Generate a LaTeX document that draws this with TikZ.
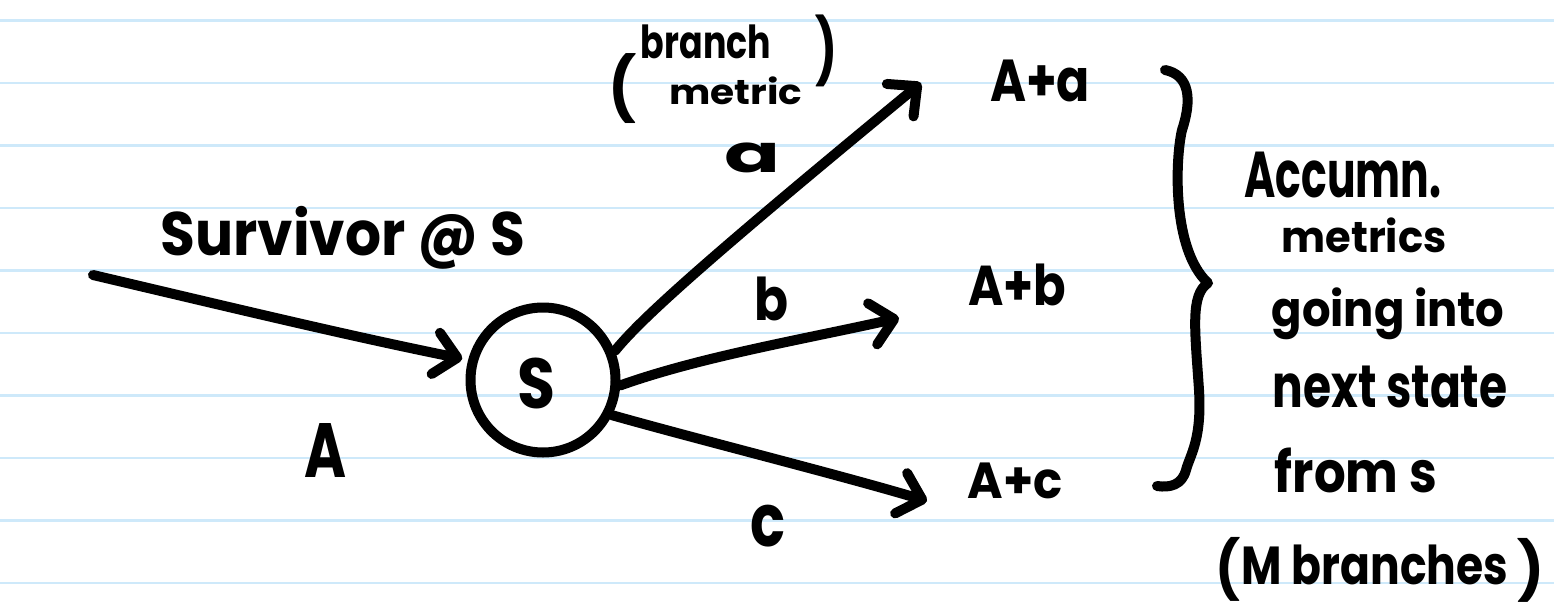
\documentclass[tikz,border=0pt]{standalone}
\usepackage{fontspec}
\setmainfont{Poppins}
\usepackage{graphicx}
\usetikzlibrary{arrows.meta}
\definecolor{ruleblue}{RGB}{206,233,250}
\newcommand\fitbox[3]{\resizebox*{#1}{#2}{#3}}
\tikzset{
  pen/.style={line width=10pt, line cap=round, line join=round, black},
  arr/.style={pen, -{Straight Barb[length=22pt,width=42pt,round]}},
  hw/.style={font=\bfseries, inner sep=0pt, outer sep=0pt, anchor=center},
  ruled/.style={ruleblue, line width=2.5pt},
  state/.style={circle, draw, line width=10pt, minimum size=145pt, inner sep=0pt},
}
\begin{document}
\begin{tikzpicture}[x=1pt,y=-1pt]
\useasboundingbox (0,0) rectangle (1554,610);
\fill[white] (0,0) rectangle (1554,610);
\foreach \k in {0,...,9} {
  \draw[ruled] (0,20.7+62.5*\k) -- (1554,20.7+62.5*\k);
}
% state
\node[state] (S) at (543,380) {};
\node[hw] (Slab) at (536,383) {\fitbox{38pt}{51pt}{S}};
% labels
\node[hw] (surv) at (343,238) {\fitbox{365pt}{63pt}{Survivor @ S}};
\node[hw] (Alab) at (326,450) {\fitbox{42pt}{54pt}{A}};
\node[hw] (alab) at (752,158) {\fitbox{56pt}{30pt}{a}};
\node[hw] (blab) at (771,299) {\fitbox{34pt}{44pt}{b}};
\node[hw] (clab) at (768,526) {\fitbox{35pt}{42pt}{c}};
\node[hw] (Aa) at (1040,81) {\fitbox{100pt}{42pt}{A+a}};
\node[hw] (Ab) at (1017,285) {\fitbox{98pt}{42pt}{A+b}};
\node[hw] (Ac) at (1015,481) {\fitbox{95pt}{36pt}{A+c}};
% (branch metric)
\node[hw] (branch) at (706,42) {\fitbox{130pt}{34pt}{branch}};
\node[hw] (metric) at (736,91) {\fitbox{133pt}{28pt}{metric}};
\node[hw] (lp1) at (622,89) {\fitbox{28pt}{70pt}{(}};
\node[hw] (rp1) at (826,51) {\fitbox{22pt}{72pt}{)}};
% right column
\node[hw] (acc) at (1343,175) {\fitbox{197pt}{46pt}{Accumn.}};
\node[hw] (met) at (1364,235) {\fitbox{165pt}{35pt}{metrics}};
\node[hw] (go) at (1388,314) {\fitbox{233pt}{52pt}{going into}};
\node[hw] (next) at (1390,387) {\fitbox{235pt}{42pt}{next state}};
\node[hw] (from) at (1356,470) {\fitbox{162pt}{45pt}{from s}};
\node[hw] (mbr) at (1375,565) {\fitbox{266pt}{40pt}{M branches}};
\node[hw] (lp2) at (1228,569) {\fitbox{25pt}{64pt}{(}};
\node[hw] (rp2) at (1531,570) {\fitbox{27pt}{64pt}{)}};
% free ends
\coordinate (in0) at (93,275);
\coordinate (ta) at (921,83);
\coordinate (tb) at (899,318);
\coordinate (tc) at (927,501);
% connectors
\draw[arr, shorten >=6pt] (in0) .. controls (250,312) and (350,336) .. (S.165);
\draw[arr] (S.22) .. controls (640,320) and (700,265) .. (ta);
\draw[arr] (S.-4) .. controls (700,357) and (800,340) .. (tb);
\draw[arr] (S.-27) .. controls (700,440) and (840,475) .. (tc);
% brace
\draw[pen] (1165,70) .. controls (1190,75) and (1192,100) .. (1182,130)
  .. controls (1175,160) and (1172,250) .. (1208,283)
  .. controls (1190,295) and (1195,330) .. (1199,390)
  .. controls (1202,440) and (1190,455) .. (1186,470)
  .. controls (1182,485) and (1170,488) .. (1157,486);
\end{tikzpicture}
\end{document}
